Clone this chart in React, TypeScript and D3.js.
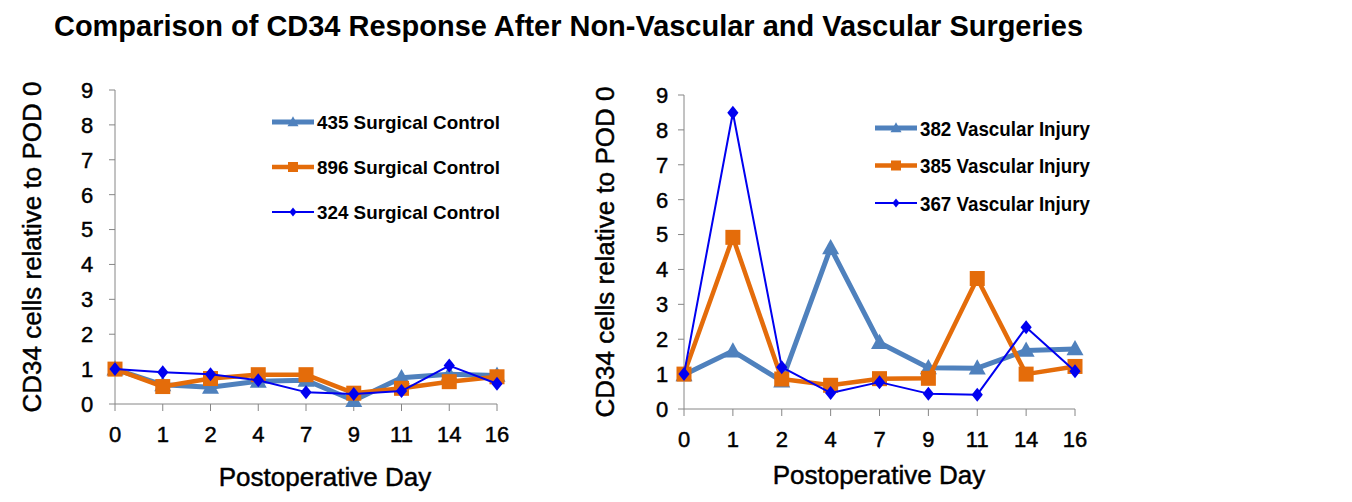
import React from "react";
import * as d3 from "d3";

const days = ["0", "1", "2", "4", "7", "9", "11", "14", "16"];
const yTicks = [0, 1, 2, 3, 4, 5, 6, 7, 8, 9];

const surgical435 = [1.0, 0.55, 0.48, 0.65, 0.68, 0.1, 0.75, 0.85, 0.82];
const surgical896 = [1.0, 0.5, 0.73, 0.84, 0.84, 0.31, 0.45, 0.64, 0.78];
const surgical324 = [1.0, 0.91, 0.85, 0.68, 0.34, 0.29, 0.37, 1.1, 0.58];

const vascular382 = [0.98, 1.66, 0.8, 4.62, 1.9, 1.18, 1.17, 1.68, 1.72];
const vascular385 = [1.0, 4.92, 0.86, 0.68, 0.87, 0.88, 3.74, 1.0, 1.22];
const vascular367 = [1.0, 8.49, 1.2, 0.46, 0.77, 0.44, 0.41, 2.34, 1.08];

const leftNames = ["435 Surgical Control", "896 Surgical Control", "324 Surgical Control"];
const rightNames = ["382 Vascular Injury", "385 Vascular Injury", "367 Vascular Injury"];

const STEEL = "#4F81BD";
const ORANGE = "#E46C0A";
const BLUE = "#0000F0";

type Kind = "tri" | "sq" | "dia";
const styles: { color: string; width: number; kind: Kind; size: number; lsize: number }[] = [
  { color: STEEL, width: 5, kind: "tri", size: 17, lsize: 11 },
  { color: ORANGE, width: 4.5, kind: "sq", size: 15, lsize: 10 },
  { color: BLUE, width: 2, kind: "dia", size: 14, lsize: 9 },
];

const FONT = "'Liberation Sans', Arial, sans-serif";
const TXT_STROKE = 0.45;

function Marker({ kind, x, y, s, color }: { kind: Kind; x: number; y: number; s: number; color: string }) {
  const h = s / 2;
  if (kind === "tri") {
    return <path d={`M${x},${y - h * 1.05} L${x + h},${y + h * 0.75} L${x - h},${y + h * 0.75} Z`} fill={color} />;
  }
  if (kind === "sq") {
    return <rect x={x - h} y={y - h} width={s} height={s} fill={color} />;
  }
  return <path d={`M${x},${y - h} L${x + h * 0.8},${y} L${x},${y + h} L${x - h * 0.8},${y} Z`} fill={color} />;
}

function Panel({
  x0, x1, yTop, yBot, series, names, legendX, legendY, legendGap, legendLine, legendFont, legendWidth,
  yTitleX, xTitleX, xTitleY, tickLabelX,
}: {
  x0: number; x1: number; yTop: number; yBot: number; series: number[][]; names: string[];
  legendX: number; legendY: number; legendGap: number; legendLine: number; legendFont: number; legendWidth: number;
  yTitleX: number; xTitleX: number; xTitleY: number; tickLabelX: number;
}) {
  const x = d3.scalePoint<string>().domain(days).range([x0, x1]);
  const y = d3.scaleLinear().domain([0, 9]).range([yBot, yTop]);
  const line = d3.line<number>().x((_, i) => x(days[i])!).y((d) => y(d));
  const axisColor = "#868686";
  return (
    <g>
      <line x1={x0} x2={x0} y1={yTop} y2={yBot} stroke={axisColor} strokeWidth={1} />
      {yTicks.map((t) => (
        <g key={t}>
          <line x1={x0 - 6} x2={x0} y1={y(t)} y2={y(t)} stroke={axisColor} />
          <text x={tickLabelX} y={y(t)} dy="0.36em" textAnchor="middle" fontSize={22} fontFamily={FONT} fill="#000" stroke="#000" strokeWidth={TXT_STROKE}>
            {t}
          </text>
        </g>
      ))}
      <line x1={x0} x2={x1} y1={yBot} y2={yBot} stroke={axisColor} />
      {days.map((d) => (
        <g key={d}>
          <line x1={x(d)} x2={x(d)} y1={yBot} y2={yBot + 7} stroke={axisColor} />
          <text x={x(d)} y={yBot + 38} textAnchor="middle" fontSize={22} fontFamily={FONT} fill="#000" stroke="#000" strokeWidth={TXT_STROKE}>
            {d}
          </text>
        </g>
      ))}
      <text
        transform={`translate(${yTitleX},${(yTop + yBot) / 2}) rotate(-90)`}
        textAnchor="middle"
        fontSize={26}
        fontFamily={FONT}
        fill="#000"
        stroke="#000"
        strokeWidth={TXT_STROKE}
      >
        CD34 cells relative to POD 0
      </text>
      <text x={xTitleX} y={xTitleY} textAnchor="middle" fontSize={26} fontFamily={FONT} fill="#000" stroke="#000" strokeWidth={TXT_STROKE}>
        Postoperative Day
      </text>
      {series.map((vals, si) => {
        const st = styles[si];
        return (
          <g key={si}>
            <path d={line(vals)!} fill="none" stroke={st.color} strokeWidth={st.width} strokeLinejoin="round" />
            {vals.map((v, i) => (
              <Marker key={i} kind={st.kind} x={x(days[i])!} y={y(v)} s={st.size} color={st.color} />
            ))}
          </g>
        );
      })}
      {names.map((n, i) => {
        const st = styles[i];
        const ly = legendY + i * legendGap;
        return (
          <g key={n}>
            <line x1={legendX} x2={legendX + legendLine} y1={ly} y2={ly} stroke={st.color} strokeWidth={st.width} />
            <Marker kind={st.kind} x={legendX + legendLine / 2} y={ly} s={st.lsize} color={st.color} />
            <text
              x={legendX + legendLine + 3}
              y={ly}
              dy="0.36em"
              fontSize={legendFont}
              fontWeight="bold"
              fontFamily={FONT}
              textLength={legendWidth}
              lengthAdjust="spacingAndGlyphs"
              fill="#000"
            >
              {n}
            </text>
          </g>
        );
      })}
    </g>
  );
}

export default function App() {
  React.useEffect(() => {
    document.body.style.margin = "0";
  }, []);
  return (
    <svg width={1352} height={502} style={{ position: "absolute", left: 0, top: 0, background: "#fff" }}>
      <rect width={1352} height={502} fill="#fff" />
      <text
        x={54}
        y={36}
        fontSize={29}
        fontWeight="bold"
        fontFamily={FONT}
        textLength={1029}
        lengthAdjust="spacingAndGlyphs"
        fill="#000"
      >
        Comparison of CD34 Response After Non-Vascular and Vascular Surgeries
      </text>
      <Panel
        x0={115}
        x1={497}
        yTop={90}
        yBot={404}
        series={[surgical435, surgical896, surgical324]}
        names={leftNames}
        legendX={272}
        legendY={122}
        legendGap={45}
        legendLine={42}
        legendFont={19}
        legendWidth={183}
        yTitleX={41}
        xTitleX={325}
        xTitleY={486}
        tickLabelX={87}
      />
      <Panel
        x0={684}
        x1={1075}
        yTop={95}
        yBot={409}
        series={[vascular382, vascular385, vascular367]}
        names={rightNames}
        legendX={875}
        legendY={128}
        legendGap={37.5}
        legendLine={42}
        legendFont={21}
        legendWidth={170}
        yTitleX={614}
        xTitleX={879}
        xTitleY={484}
        tickLabelX={662}
      />
    </svg>
  );
}
